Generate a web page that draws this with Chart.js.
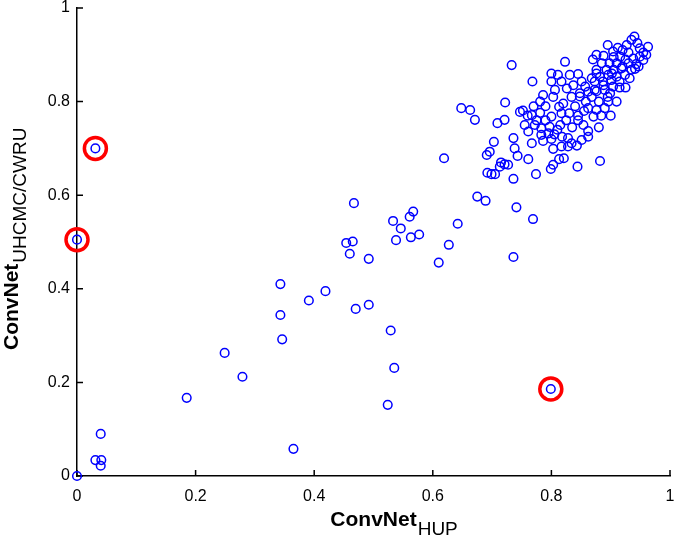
<!DOCTYPE html>
<html>
<head>
<meta charset="utf-8">
<title>ConvNet HUP vs UHCMC/CWRU</title>
<script src="https://cdn.jsdelivr.net/npm/chart.js@4.4.1/dist/chart.umd.min.js"></script>
<style>
  html, body { margin: 0; padding: 0; background: #fff; }
  #wrap { width: 675px; height: 538px; position: relative; }
</style>
</head>
<body>
<div id="wrap"><canvas id="chart"></canvas></div>
<script>
// ConvNet score per case: HUP model (x) vs UHCMC/CWRU model (y)
const hupScores = [
  0.000, 0.040, 0.031, 0.041, 0.040, 0.031, 0.000, 0.799, 0.185, 0.249,
  0.279, 0.365, 0.343, 0.343, 0.346, 0.391, 0.419, 0.467, 0.454, 0.465,
  0.460, 0.492, 0.470, 0.492, 0.529, 0.535, 0.524, 0.533, 0.546, 0.561,
  0.567, 0.538, 0.563, 0.577, 0.610, 0.627, 0.642, 0.675, 0.689, 0.741,
  0.769, 0.736, 0.619, 0.703, 0.691, 0.696, 0.738, 0.743, 0.767, 0.761,
  0.786, 0.803, 0.817, 0.828, 0.843, 0.813, 0.821, 0.803, 0.799, 0.844,
  0.882, 0.774, 0.736, 0.692, 0.699, 0.705, 0.715, 0.713, 0.721, 0.727,
  0.648, 0.663, 0.671, 0.709, 0.733, 0.768, 0.722, 0.747, 0.767, 0.781,
  0.800, 0.755, 0.772, 0.783, 0.797, 0.761, 0.783, 0.795, 0.828, 0.817,
  0.752, 0.736, 0.721, 0.862, 0.854, 0.823, 0.800, 0.811, 0.831, 0.845,
  0.800, 0.817, 0.806, 0.826, 0.837, 0.851, 0.857, 0.862, 0.848, 0.834,
  0.803, 0.786, 0.781, 0.820, 0.868, 0.873, 0.876, 0.862, 0.876, 0.871,
  0.862, 0.851, 0.834, 0.895, 0.927, 0.940, 0.935, 0.963, 0.949, 0.876,
  0.904, 0.916, 0.949, 0.955, 0.885, 0.898, 0.910, 0.930, 0.943, 0.876,
  0.893, 0.905, 0.918, 0.935, 0.947, 0.882, 0.896, 0.910, 0.924, 0.873,
  0.887, 0.901, 0.915, 0.904, 0.890, 0.876, 0.899, 0.932, 0.941, 0.896,
  0.890, 0.884, 0.848, 0.813, 0.840, 0.830, 0.845, 0.790, 0.775, 0.815,
  0.835, 0.805, 0.880, 0.900, 0.910, 0.925, 0.955, 0.920, 0.905, 0.925,
  0.870, 0.888, 0.912, 0.930, 0.945, 0.960, 0.938, 0.920, 0.902, 0.888,
  0.915, 0.895, 0.868, 0.858, 0.845, 0.825, 0.810, 0.790, 0.800, 0.818,
  0.855, 0.880, 0.770, 0.760
];
const uhcmcScores = [
  0.000, 0.090, 0.034, 0.034, 0.022, 0.700, 0.505, 0.186, 0.167, 0.263,
  0.212, 0.058, 0.410, 0.344, 0.292, 0.375, 0.395, 0.583, 0.498, 0.501,
  0.475, 0.464, 0.357, 0.366, 0.311, 0.231, 0.152, 0.545, 0.529, 0.554,
  0.565, 0.504, 0.510, 0.516, 0.456, 0.494, 0.539, 0.597, 0.588, 0.574,
  0.549, 0.468, 0.679, 0.714, 0.686, 0.693, 0.700, 0.684, 0.711, 0.677,
  0.716, 0.699, 0.704, 0.704, 0.706, 0.677, 0.679, 0.665, 0.656, 0.661,
  0.673, 0.645, 0.635, 0.648, 0.645, 0.645, 0.670, 0.661, 0.666, 0.665,
  0.786, 0.782, 0.761, 0.754, 0.878, 0.843, 0.798, 0.778, 0.771, 0.776,
  0.768, 0.750, 0.750, 0.743, 0.746, 0.736, 0.729, 0.732, 0.722, 0.775,
  0.781, 0.722, 0.761, 0.737, 0.750, 0.885, 0.860, 0.857, 0.857, 0.859,
  0.843, 0.843, 0.825, 0.828, 0.835, 0.843, 0.832, 0.821, 0.818, 0.810,
  0.810, 0.814, 0.800, 0.796, 0.810, 0.825, 0.860, 0.786, 0.782, 0.768,
  0.725, 0.718, 0.711, 0.921, 0.921, 0.939, 0.932, 0.917, 0.914, 0.900,
  0.907, 0.896, 0.896, 0.889, 0.882, 0.882, 0.882, 0.882, 0.880, 0.868,
  0.868, 0.868, 0.871, 0.868, 0.875, 0.853, 0.857, 0.853, 0.857, 0.843,
  0.843, 0.846, 0.843, 0.832, 0.825, 0.822, 0.818, 0.850, 0.870, 0.800,
  0.786, 0.770, 0.811, 0.789, 0.790, 0.775, 0.770, 0.790, 0.760, 0.750,
  0.745, 0.730, 0.745, 0.770, 0.800, 0.830, 0.905, 0.910, 0.895, 0.890,
  0.890, 0.898, 0.915, 0.905, 0.925, 0.900, 0.892, 0.875, 0.860, 0.835,
  0.830, 0.810, 0.850, 0.800, 0.760, 0.760, 0.740, 0.760, 0.720, 0.725,
  0.780, 0.800, 0.790, 0.770
];

// cases circled in red
const flaggedHup = [0.031, 0.000, 0.799];
const flaggedUhcmc = [0.700, 0.505, 0.186];

const tickValues = [0, 0.2, 0.4, 0.6, 0.8, 1];
const tickLabels = ["0", "0.2", "0.4", "0.6", "0.8", "1"];

const xTitle = ["ConvNet", "HUP"];
const yTitle = ["ConvNet", "UHCMC/CWRU"];

const FONT = '"Liberation Sans", Arial, Helvetica, sans-serif';

const toPoints = (xs, ys) => xs.map((x, i) => ({ x, y: ys[i] }));

// MATLAB-style inward ticks + axis titles with subscripts
const matlabAxes = {
  id: "matlabAxes",
  beforeDatasetsDraw(chart) {
    const { ctx, chartArea: a, scales: { x, y } } = chart;
    ctx.save();
    ctx.strokeStyle = "#000";
    ctx.lineWidth = 1.5;
    ctx.beginPath();
    tickValues.forEach(v => {
      const px = x.getPixelForValue(v);
      ctx.moveTo(px, a.bottom);
      ctx.lineTo(px, a.bottom - 6);
      const py = y.getPixelForValue(v);
      ctx.moveTo(a.left, py);
      ctx.lineTo(a.left + 6, py);
    });
    ctx.stroke();
    ctx.restore();
  },
  afterDraw(chart) {
    const { ctx, chartArea: a } = chart;
    const mainFont = "bold 21px " + FONT;
    const subFont = "19px " + FONT;
    ctx.save();
    ctx.fillStyle = "#000";
    ctx.textAlign = "left";
    ctx.textBaseline = "alphabetic";

    // x title
    ctx.font = mainFont;
    const wx = ctx.measureText(xTitle[0]).width;
    const sx = (a.left + a.right) / 2 - wx / 2;
    ctx.fillText(xTitle[0], sx, 526);
    ctx.font = subFont;
    ctx.fillText(xTitle[1], sx + wx + 1, 535);

    // y title (rotated)
    ctx.translate(18, (a.top + a.bottom) / 2 + 108);
    ctx.rotate(-Math.PI / 2);
    ctx.font = mainFont;
    const wy = ctx.measureText(yTitle[0]).width;
    ctx.fillText(yTitle[0], 0, 0);
    ctx.font = subFont;
    ctx.fillText(yTitle[1], wy + 1, 8);
    ctx.restore();
  }
};

function axisOptions(isX) {
  return {
    type: "linear",
    min: 0,
    max: 1,
    afterBuildTicks: s => { s.ticks = tickValues.map(v => ({ value: v })); },
    ticks: {
      callback: (v, i) => tickLabels[i],
      font: { family: FONT, size: 16 },
      color: "#000",
      padding: isX ? 11 : 7,
      maxRotation: 0,
      autoSkip: false
    },
    grid: { display: false, drawTicks: false },
    border: { display: true, color: "#000", width: 1.5 },
    afterFit: s => {
      if (isX) { s.height = 62; s.paddingLeft = 0; s.paddingRight = 0; }
      else { s.width = 77; s.paddingTop = 0; s.paddingBottom = 0; }
    }
  };
}

new Chart(document.getElementById("chart"), {
  type: "scatter",
  data: {
    datasets: [
      {
        label: "flagged",
        data: toPoints(flaggedHup, flaggedUhcmc),
        pointRadius: 11,
        pointHoverRadius: 11,
        pointBorderWidth: 3.5,
        pointBorderColor: "#ff0000",
        pointBackgroundColor: "rgba(0,0,0,0)"
      },
      {
        label: "cases",
        data: toPoints(hupScores, uhcmcScores),
        pointRadius: 4.3,
        pointHoverRadius: 4.3,
        pointBorderWidth: 1.5,
        pointBorderColor: "#0000ff",
        pointBackgroundColor: "rgba(0,0,0,0)"
      }
    ]
  },
  options: {
    responsive: true,
    maintainAspectRatio: false,
    animation: false,
    clip: false,
    layout: { autoPadding: false, padding: { top: 8, right: 5, left: 0, bottom: 0 } },
    plugins: {
      legend: { display: false },
      tooltip: { enabled: false }
    },
    scales: {
      x: axisOptions(true),
      y: axisOptions(false)
    }
  },
  plugins: [matlabAxes]
});
</script>
</body>
</html>
